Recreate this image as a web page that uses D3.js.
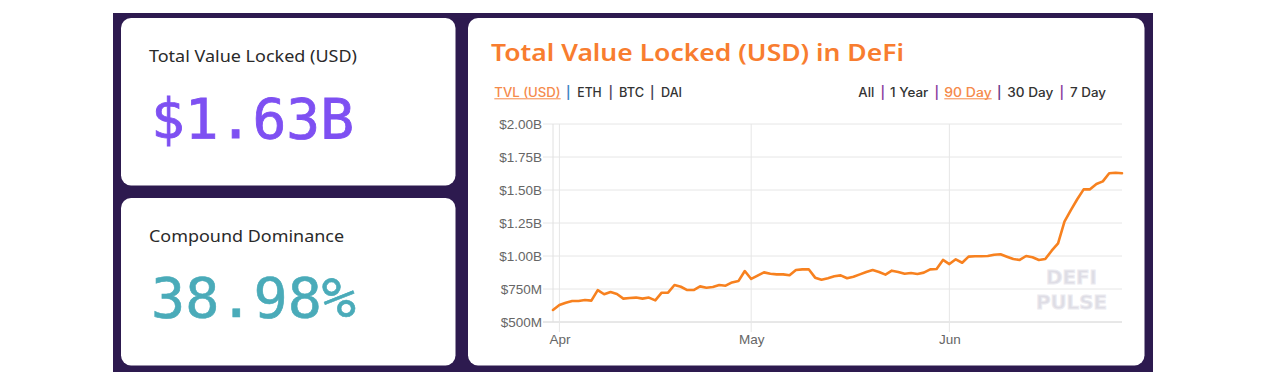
<!DOCTYPE html>
<html>
<head>
<meta charset="utf-8">
<script src="https://cdn.jsdelivr.net/npm/d3@7"></script>
<style>
html,body{margin:0;padding:0;background:#fff;}
svg{display:block;}
</style>
</head>
<body>
<svg id="chart" width="1263" height="391"></svg>
<script>
// ---- data ----
const dates = [
  "2020-03-31",
  "2020-04-01","2020-04-02","2020-04-03","2020-04-04","2020-04-05","2020-04-06","2020-04-07","2020-04-08","2020-04-09","2020-04-10",
  "2020-04-11","2020-04-12","2020-04-13","2020-04-14","2020-04-15","2020-04-16","2020-04-17","2020-04-18","2020-04-19","2020-04-20",
  "2020-04-21","2020-04-22","2020-04-23","2020-04-24","2020-04-25","2020-04-26","2020-04-27","2020-04-28","2020-04-29","2020-04-30",
  "2020-05-01","2020-05-02","2020-05-03","2020-05-04","2020-05-05","2020-05-06","2020-05-07","2020-05-08","2020-05-09","2020-05-10",
  "2020-05-11","2020-05-12","2020-05-13","2020-05-14","2020-05-15","2020-05-16","2020-05-17","2020-05-18","2020-05-19","2020-05-20",
  "2020-05-21","2020-05-22","2020-05-23","2020-05-24","2020-05-25","2020-05-26","2020-05-27","2020-05-28","2020-05-29","2020-05-30","2020-05-31",
  "2020-06-01","2020-06-02","2020-06-03","2020-06-04","2020-06-05","2020-06-06","2020-06-07","2020-06-08","2020-06-09","2020-06-10",
  "2020-06-11","2020-06-12","2020-06-13","2020-06-14","2020-06-15","2020-06-16","2020-06-17","2020-06-18","2020-06-19","2020-06-20",
  "2020-06-21","2020-06-22","2020-06-23","2020-06-24","2020-06-25","2020-06-26","2020-06-27","2020-06-28"
];
// TVL in billions USD
const tvlValues = [
  0.591,
  0.629,0.646,0.659,0.659,0.667,0.662,0.742,0.710,0.727,0.712,
  0.677,0.682,0.685,0.677,0.685,0.664,0.722,0.722,0.780,0.767,
  0.742,0.742,0.770,0.760,0.765,0.780,0.775,0.800,0.810,0.886,
  0.826,0.851,0.876,0.866,0.861,0.861,0.854,0.894,0.899,0.899,
  0.836,0.820,0.831,0.846,0.853,0.831,0.843,0.861,0.879,0.894,
  0.879,0.859,0.889,0.879,0.866,0.871,0.864,0.874,0.899,0.902,0.970,
  0.939,0.975,0.949,0.995,0.998,0.998,1.000,1.010,1.013,0.995,
  0.977,0.970,1.000,0.990,0.970,0.977,1.040,1.096,1.260,1.348,
  1.430,1.505,1.505,1.545,1.565,1.627,1.631,1.627
];
const yTickValues = [0.5, 0.75, 1.0, 1.25, 1.5, 1.75, 2.0];
const yTickLabels = ["$500M", "$750M", "$1.00B", "$1.25B", "$1.50B", "$1.75B", "$2.00B"];
const xTickDates = ["2020-04-01", "2020-05-01", "2020-06-01"];
const xTickLabels = ["Apr", "May", "Jun"];
const leftTabs = ["TVL (USD)", "ETH", "BTC", "DAI"];
const rightTabs = ["All", "1 Year", "90 Day", "30 Day", "7 Day"];
const stat1Label = "Total Value Locked (USD)", stat1Value = "$1.63B";
const stat2Label = "Compound Dominance", stat2Value = "38.98%";
const chartTitle = "Total Value Locked (USD) in DeFi";

// ---- drawing ----
const svg = d3.select("#chart");
const parse = d3.timeParse("%Y-%m-%d");
const data = dates.map((d, i) => ({ date: parse(d), v: tvlValues[i] }));

// background panel
svg.append("rect").attr("x", 113).attr("y", 13).attr("width", 1040).attr("height", 359).attr("fill", "#2d1a4f");

// cards
svg.append("rect").attr("x", 121).attr("y", 18).attr("width", 334.5).attr("height", 167.5).attr("rx", 10).attr("fill", "#fff");
svg.append("rect").attr("x", 121).attr("y", 198).attr("width", 334.5).attr("height", 167.5).attr("rx", 10).attr("fill", "#fff");
svg.append("rect").attr("x", 468).attr("y", 18).attr("width", 676.5).attr("height", 347.5).attr("rx", 10).attr("fill", "#fff");

const labelFont = "'Noto Sans', 'Open Sans', sans-serif";
const monoFont = "'DejaVu Sans Mono', 'Liberation Mono', monospace";

svg.append("text").attr("x", 149).attr("y", 62).attr("font-family", labelFont).attr("font-size", 16.5)
  .attr("fill", "#2a2a2a").attr("textLength", 208).attr("lengthAdjust", "spacingAndGlyphs").text(stat1Label);
svg.append("text").attr("x", 151).attr("y", 137.5).attr("font-family", monoFont).attr("font-size", 55)
  .attr("fill", "#7e50f2").attr("stroke", "#7e50f2").attr("stroke-width", 0.8)
  .attr("textLength", 203).attr("lengthAdjust", "spacingAndGlyphs").text(stat1Value);

svg.append("text").attr("x", 149).attr("y", 242).attr("font-family", labelFont).attr("font-size", 16.5)
  .attr("fill", "#2a2a2a").attr("textLength", 195).attr("lengthAdjust", "spacingAndGlyphs").text(stat2Label);
svg.append("text").attr("x", 151).attr("y", 317).attr("font-family", monoFont).attr("font-size", 55)
  .attr("fill", "#4aabb9").attr("stroke", "#4aabb9").attr("stroke-width", 0.6)
  .attr("textLength", 205).attr("lengthAdjust", "spacingAndGlyphs").text(stat2Value);

// title
svg.append("text").attr("x", 491).attr("y", 61).attr("font-family", labelFont).attr("font-size", 23).attr("font-weight", 600)
  .attr("fill", "#f87d2f").attr("textLength", 413).attr("lengthAdjust", "spacingAndGlyphs").text(chartTitle);

// tabs
const tabFont = "'Inter', 'Noto Sans', sans-serif";
const leftTabX = [494.3, 577.3, 619, 661];
const leftTabW = [66.4, 24.4, 25, 21];
const leftSepX = [568.3, 610.7, 652.3];
const rightTabX = [858.3, 890, 944.3, 1007.3, 1070];
const rightTabW = [16, 38.3, 47.4, 46, 36];
const rightSepX = [882.7, 936.7, 999.3, 1061.7];
function drawTabs(labels, xs, ws, seps, activeIdx, sepColors) {
  labels.forEach((t, i) => {
    const active = i === activeIdx;
    svg.append("text").attr("x", xs[i]).attr("y", 96.7).attr("font-family", tabFont).attr("font-size", 12.5)
      .attr("font-weight", 500).attr("fill", active ? "#f58a4b" : "#333")
      .attr("textLength", ws[i]).attr("lengthAdjust", "spacingAndGlyphs").text(t);
    if (active) {
      svg.append("line").attr("x1", xs[i]).attr("x2", xs[i] + ws[i]).attr("y1", 98.8).attr("y2", 98.8)
        .attr("stroke", "#f58a4b").attr("stroke-width", 1);
    }
  });
  seps.forEach((sx, i) => {
    svg.append("text").attr("x", sx).attr("y", 96.7).attr("text-anchor", "middle").attr("font-family", tabFont)
      .attr("font-size", 12.5).attr("font-weight", 600).attr("fill", sepColors[i]).text("|");
  });
}
drawTabs(leftTabs, leftTabX, leftTabW, leftSepX, 0, ["#3f86c4", "#5a4a5e", "#4a4a5a"]);
drawTabs(rightTabs, rightTabX, rightTabW, rightSepX, 2, ["#8a3fa0", "#8a3fa0", "#6a3a8a", "#8a3fa0"]);

// scales
const x = d3.scaleTime().domain([data[0].date, data[data.length - 1].date]).range([553, 1122]);
const y = d3.scaleLinear().domain([0.5, 2.0]).range([322, 124]);

// horizontal grid
const grid = svg.append("g");
yTickValues.forEach((v, i) => {
  grid.append("line").attr("x1", 543).attr("x2", 1122).attr("y1", y(v)).attr("y2", y(v))
    .attr("stroke", i === 0 ? "#d0d0d0" : "#e6e6e6").attr("stroke-width", 1);
});
// left axis line
grid.append("line").attr("x1", x.range()[0]).attr("x2", x.range()[0]).attr("y1", y(2.0)).attr("y2", y(0.5))
  .attr("stroke", "#e0e0e0").attr("stroke-width", 1);
// month grid
xTickDates.forEach(d => {
  const xx = x(parse(d));
  grid.append("line").attr("x1", xx).attr("x2", xx).attr("y1", y(2.0)).attr("y2", y(0.5) + 10)
    .attr("stroke", "#e6e6e6").attr("stroke-width", 1);
});

// y axis labels via d3 axis
const yAxis = d3.axisLeft(y).tickValues(yTickValues).tickFormat((d, i) => yTickLabels[i]).tickSize(0).tickPadding(0);
const yg = svg.append("g").attr("transform", "translate(542,0)").call(yAxis);
yg.select(".domain").remove();
yg.selectAll("text").attr("font-family", "'Liberation Sans', Arial, sans-serif").attr("font-size", 13.5).attr("fill", "#666");

// x axis labels
const xAxis = d3.axisBottom(x).tickValues(xTickDates.map(parse)).tickFormat((d, i) => xTickLabels[i]).tickSize(0).tickPadding(0);
const xg = svg.append("g").attr("transform", "translate(0,334.5)").call(xAxis);
xg.select(".domain").remove();
xg.selectAll("text").attr("font-family", "'Liberation Sans', Arial, sans-serif").attr("font-size", 13.5).attr("fill", "#666");

// watermark
const wm = svg.append("g").attr("font-family", "'DejaVu Sans', sans-serif").attr("font-weight", "bold")
  .attr("text-anchor", "start").attr("fill", "#dedde5").attr("stroke", "#ecebf0").attr("stroke-width", 1);
wm.append("text").attr("x", 1046).attr("y", 283.5).attr("font-size", 20).attr("textLength", 51).attr("lengthAdjust", "spacingAndGlyphs").text("DEFI");
wm.append("text").attr("x", 1036).attr("y", 308.5).attr("font-size", 20).attr("textLength", 71).attr("lengthAdjust", "spacingAndGlyphs").text("PULSE");

// line
const line = d3.line().x(d => x(d.date)).y(d => y(d.v)).curve(d3.curveLinear);
svg.append("path").datum(data).attr("d", line).attr("fill", "none").attr("stroke", "#f7811f")
  .attr("stroke-width", 2.6).attr("stroke-linejoin", "round").attr("stroke-linecap", "round");
</script>
</body>
</html>
